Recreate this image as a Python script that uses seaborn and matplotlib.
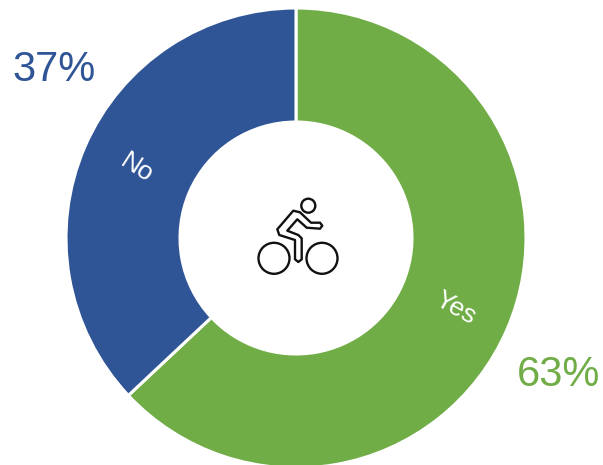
import matplotlib
matplotlib.use("Agg")
import matplotlib.pyplot as plt
from matplotlib.patches import Circle, Polygon
import seaborn as sns

categories = ["Yes", "No"]
shares = [63, 37]
share_labels = ["63%", "37%"]
colors = sns.color_palette(["#70AD47", "#2F5597"])

sns.set_theme(style="white")
plt.rcParams["font.family"] = ["Liberation Sans", "DejaVu Sans"]

fig = plt.figure(figsize=(6.03, 4.65), dpi=100)
ax = fig.add_axes([0, 0, 1, 1])

# Donut in pixel-like coordinates, clockwise from twelve o'clock
cx, cy = 296, -238
ax.pie(
    shares,
    colors=colors,
    startangle=90,
    counterclock=False,
    center=(cx, cy),
    radius=230,
    wedgeprops=dict(width=114, edgecolor="white", linewidth=2.2),
)
ax.set_xlim(0, 603)
ax.set_ylim(-465, 0)
ax.set_aspect("equal")
ax.axis("off")

# Category names inside the ring
ax.text(456, -308, categories[0], color="white", fontsize=19, rotation=-29,
        ha="center", va="center", rotation_mode="anchor")
ax.text(137, -168, categories[1], color="white", fontsize=19, rotation=-33,
        ha="center", va="center", rotation_mode="anchor")

# Percentages outside the ring
ax.text(558.5, -375, share_labels[0], color=colors[0], fontsize=30, ha="center", va="center")
ax.text(54.5, -70, share_labels[1], color=colors[1], fontsize=30, ha="center", va="center")

# Cyclist pictogram in the hole
stroke = dict(fill=False, edgecolor="#111111", linewidth=1.7)
ax.add_patch(Circle((308.3, -205.7), 7, **stroke))
ax.add_patch(Circle((274, -258.3), 15.5, **stroke))
ax.add_patch(Circle((322, -258.3), 15.5, **stroke))
rider = [
    (320, -222.7), (311, -222.7), (300, -212.3), (293.3, -210.7), (277.3, -229.3),
    (279.3, -235), (295, -240), (295, -259.3), (298.3, -262), (301.7, -259.3),
    (301.7, -238.3), (298.3, -235), (287.3, -230.7), (297.3, -219.3), (306.7, -227.7),
    (320, -228.7), (322.3, -225.7),
]
ax.add_patch(Polygon(rider, closed=True, joinstyle="round", **stroke))

fig.savefig("out.png", dpi=100)
